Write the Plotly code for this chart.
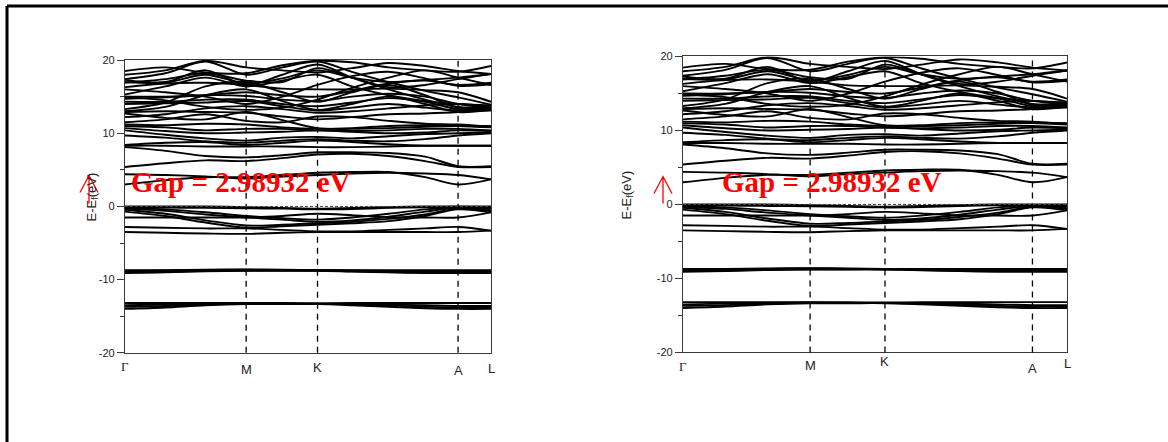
import plotly.graph_objects as go

# ---- band-structure data (energies in eV relative to E_f) ----
# k-path sample positions along Γ-M-K-A-L
kpath = [0.0, 0.11, 0.22, 0.331, 0.43, 0.526, 0.62, 0.72, 0.82, 0.91, 1.0]
sym_pos = [0.0, 0.331, 0.526, 0.91, 1.0]
sym_labels = ["Γ", "M", "K", "A", "L"]

cond_high = [
    [18.5, 19.0, 18.3, 18.2, 19.3, 19.9, 19.7, 19.0, 18.6, 18.4, 19.2],
    [18.0, 18.6, 19.9, 19.0, 18.6, 18.3, 18.9, 19.6, 19.2, 18.5, 18.1],
    [17.4, 18.2, 19.8, 18.0, 19.0, 19.8, 18.4, 17.0, 15.8, 14.9, 13.9],
    [17.3, 17.0, 18.6, 16.6, 18.0, 19.4, 17.6, 16.0, 14.6, 13.6, 13.6],
    [17.0, 16.9, 18.0, 16.8, 17.5, 18.6, 17.6, 17.0, 17.3, 17.6, 18.1],
    [16.9, 17.4, 18.2, 17.2, 17.0, 18.9, 17.6, 16.3, 16.6, 17.4, 18.1],
    [16.3, 16.8, 16.9, 16.6, 16.1, 16.0, 16.0, 16.1, 15.9, 15.6, 14.3],
    [16.0, 15.6, 15.0, 14.0, 15.0, 16.6, 17.8, 18.4, 17.5, 16.5, 16.7],
    [15.3, 16.4, 17.6, 16.4, 17.2, 18.0, 16.4, 15.2, 14.4, 14.0, 13.8],
    [15.0, 15.0, 15.2, 15.6, 15.2, 15.0, 15.8, 16.8, 17.2, 16.6, 16.9],
    [14.9, 14.5, 13.6, 13.2, 13.5, 14.6, 16.2, 17.6, 18.6, 17.6, 16.6],
    [14.7, 14.9, 15.2, 15.1, 14.6, 14.4, 15.0, 15.4, 15.0, 14.0, 13.5],
    [14.3, 14.3, 14.6, 14.6, 14.0, 13.7, 14.2, 14.8, 14.3, 13.3, 13.3],
    [14.0, 14.1, 14.2, 14.4, 13.7, 13.1, 13.5, 14.0, 13.5, 13.1, 13.1],
    [13.3, 14.2, 16.4, 17.0, 15.6, 14.3, 15.6, 16.6, 15.2, 13.5, 13.4],
    [13.0, 13.6, 15.2, 16.0, 14.4, 13.2, 14.0, 15.0, 14.0, 12.9, 13.2],
    [12.9, 13.0, 12.9, 12.8, 12.3, 11.9, 12.2, 12.6, 12.7, 12.9, 13.3],
    [12.7, 12.1, 11.9, 12.9, 11.8, 10.7, 10.6, 10.7, 10.9, 11.0, 11.0],
    [12.2, 12.6, 13.4, 13.7, 13.3, 12.8, 13.0, 13.4, 13.8, 14.0, 13.6],
    [11.5, 11.9, 12.6, 11.7, 11.5, 12.3, 12.2, 11.7, 11.3, 11.2, 10.9],
]

cond_low = [
    [11.2, 11.1, 11.3, 11.2, 10.8, 10.6, 10.7, 11.0, 11.1, 11.0, 10.8],
    [11.0, 10.8, 10.4, 10.6, 10.6, 10.4, 10.3, 10.4, 10.6, 10.6, 10.4],
    [10.7, 10.3, 10.0, 10.1, 10.2, 10.4, 10.2, 10.0, 10.1, 10.4, 10.3],
    [10.4, 9.8, 9.3, 9.0, 9.4, 9.5, 9.3, 9.6, 9.9, 10.0, 10.1],
    [9.7, 9.4, 8.9, 8.7, 9.0, 9.2, 9.0, 8.9, 9.2, 9.7, 10.0],
    [8.4, 8.7, 8.8, 8.4, 8.7, 9.0, 8.8, 8.5, 8.3, 8.3, 8.3],
    [8.3, 8.3, 8.2, 8.2, 8.2, 8.1, 8.1, 8.2, 8.3, 8.3, 8.3],
    [8.1, 7.6, 6.9, 6.7, 7.0, 7.4, 7.4, 7.3, 6.8, 5.5, 5.5],
    [5.4, 5.9, 6.3, 6.2, 6.6, 7.1, 7.2, 6.9, 6.2, 5.4, 5.4],
    [4.4, 4.3, 4.1, 3.8, 4.1, 4.3, 4.5, 4.6, 4.5, 4.3, 3.7],
    [3.0, 3.6, 4.0, 4.0, 4.3, 4.6, 4.7, 4.7, 4.0, 3.0, 3.7],
]

valence = [
    [0.0, 0.0, 0.0, -0.1, -0.2, -0.3, -0.2, -0.1, 0.0, 0.0, 0.0],
    [-0.1, -0.15, -0.2, -0.25, -0.3, -0.4, -0.35, -0.2, -0.1, -0.05, -0.1],
    [-0.2, -0.4, -0.8, -1.3, -1.6, -1.8, -1.5, -1.0, -0.4, -0.1, -0.3],
    [-0.3, -0.6, -1.1, -1.5, -1.8, -2.1, -1.9, -1.4, -0.7, -0.2, -0.5],
    [-0.45, -1.0, -1.9, -2.6, -2.5, -2.3, -2.1, -1.7, -1.1, -0.3, -0.6],
    [-0.7, -1.3, -2.2, -2.9, -2.7, -2.5, -2.3, -2.0, -1.3, -0.4, -0.8],
    [-1.5, -1.5, -1.5, -1.5, -1.3, -1.0, -1.2, -1.5, -1.5, -1.5, -0.8],
    [-2.8, -2.9, -3.0, -3.0, -3.2, -3.4, -3.4, -3.2, -3.0, -2.8, -3.3],
    [-3.5, -3.6, -3.7, -3.75, -3.6, -3.5, -3.5, -3.5, -3.5, -3.5, -3.3],
]

semicore = [
    [-8.7, -8.7, -8.65, -8.6, -8.65, -8.7, -8.7, -8.7, -8.7, -8.7, -8.7],
    [-8.8, -8.75, -8.7, -8.65, -8.7, -8.7, -8.75, -8.8, -8.8, -8.8, -8.8],
    [-8.9, -8.85, -8.75, -8.7, -8.7, -8.75, -8.8, -8.85, -8.9, -8.9, -8.9],
    [-9.0, -8.95, -8.8, -8.75, -8.75, -8.75, -8.85, -8.95, -9.0, -9.0, -9.0],
    [-9.1, -9.0, -8.85, -8.8, -8.8, -8.8, -8.9, -9.0, -9.1, -9.1, -9.1],
    [-13.2, -13.2, -13.2, -13.2, -13.2, -13.25, -13.2, -13.2, -13.2, -13.2, -13.2],
    [-13.5, -13.4, -13.3, -13.25, -13.3, -13.3, -13.3, -13.4, -13.5, -13.6, -13.6],
    [-13.7, -13.6, -13.4, -13.3, -13.3, -13.3, -13.4, -13.55, -13.7, -13.8, -13.8],
    [-14.0, -13.8, -13.5, -13.35, -13.35, -13.35, -13.5, -13.7, -13.9, -14.0, -14.0],
]

gap_value = 2.98932
y_ticks = [-20, -10, 0, 10, 20]
y_tick_text = ["-20", "-10", "0", "10", "20"]

W, H = 1168, 442
all_bands = cond_high + cond_low + valence + semicore


def px(v):
    return v / W


def py(v):
    # vertical pixel position -> paper fraction (small calibration for the page)
    return 1 - ((v - 5.1) / 0.975) / H


fig = go.Figure()

# two panels: (x-axis, y-axis, x-domain px, y-domain px top/bottom)
panels = [
    ("x", "y", (125, 491), (59.3, 352.7)),
    ("x2", "y2", (683, 1067), (55.7, 352.3)),
]

for xa, ya, _, _ in panels:
    for band in all_bands:
        fig.add_trace(go.Scatter(
            x=kpath, y=band, xaxis=xa, yaxis=ya, mode="lines",
            line=dict(color="black", width=1.9, shape="spline", smoothing=0.9),
            hoverinfo="skip", showlegend=False,
        ))

axis_common = dict(showgrid=False, zeroline=False, linecolor="#3a3a3a",
                   linewidth=1.2, mirror=True)
layout_axes = {}
for i, (xa, ya, (x0, x1), (yt, yb)) in enumerate(panels):
    suffix = "" if i == 0 else str(i + 1)
    layout_axes["xaxis" + suffix] = dict(
        domain=[px(x0), px(x1)], range=[0, 1], anchor=ya,
        showticklabels=False, ticks="", **axis_common)
    layout_axes["yaxis" + suffix] = dict(
        domain=[py(yb), py(yt)], range=[-20, 20], anchor=xa,
        tickvals=y_ticks, ticktext=y_tick_text,
        ticks="outside", ticklen=7, tickwidth=1.1,
        tickcolor="#3a3a3a",
        tickfont=dict(family="Arial, Liberation Sans", size=11, color="#222"),
        minor=dict(tickvals=[-15, -5, 5, 15], ticks="outside", ticklen=4,
                   tickwidth=1, tickcolor="#3a3a3a"),
        **axis_common)

shapes = []
annotations = []

label_y = [
    [366, 369, 367, 370, 368],
    [366, 365, 361, 368, 363],
]
title_pos = [(92, 197), (627, 195)]
gap_pos = [(241, 181), (832, 181)]
arrow_geo = [(89, 175, 203), (663, 176, 203)]

for i, (xa, ya, (x0, x1), (yt, yb)) in enumerate(panels):
    # high-symmetry vertical guides
    for kp in sym_pos[1:-1]:
        shapes.append(dict(type="line", xref=xa, yref=ya + " domain",
                           x0=kp, x1=kp, y0=0, y1=1,
                           line=dict(color="black", width=1.3, dash="6px,5px")))
    # Fermi level
    shapes.append(dict(type="line", xref=xa + " domain", yref=ya,
                       x0=0, x1=1, y0=0, y1=0,
                       line=dict(color="#444", width=1, dash="3px,2px")))
    # k-point labels under the axis
    for j, (kp, lab) in enumerate(zip(sym_pos, sym_labels)):
        fam = "Liberation Serif, Times New Roman, serif" if lab == "Γ" else "Arial, Liberation Sans"
        annotations.append(dict(
            x=kp, xref=xa, y=py(label_y[i][j]), yref="paper",
            text=lab, showarrow=False, xanchor="center", yanchor="middle",
            font=dict(family=fam, size=13, color="#222")))
    # y-axis title
    tx, ty = title_pos[i]
    annotations.append(dict(
        x=px(tx), y=py(ty), xref="paper", yref="paper",
        text="E-E<sub>f</sub>(eV)", textangle=-90, showarrow=False,
        xanchor="center", yanchor="middle",
        font=dict(family="Arial, Liberation Sans", size=13, color="#222")))
    # gap label
    gx, gy = gap_pos[i]
    annotations.append(dict(
        x=px(gx), y=py(gy), xref="paper", yref="paper",
        text=f"<b>Gap = {gap_value:.5f} eV</b>", showarrow=False,
        xanchor="center", yanchor="middle",
        font=dict(family="Liberation Serif, Times New Roman, serif",
                  size=29, color="#ff0000")))
    # red spin arrow
    ax_, atop, abot = arrow_geo[i]
    path = (f"M {px(ax_)},{py(abot)} L {px(ax_)},{py(atop)} "
            f"M {px(ax_ - 9)},{py(atop + 17)} L {px(ax_)},{py(atop)} "
            f"L {px(ax_ + 9)},{py(atop + 17)}")
    shapes.append(dict(type="path", xref="paper", yref="paper", path=path,
                       line=dict(color="#ff0000", width=1.3)))

# outer frame (top and left edges)
shapes.append(dict(type="line", xref="paper", yref="paper",
                   x0=px(7), x1=1.02, y0=py(5), y1=py(5),
                   line=dict(color="black", width=3)))
shapes.append(dict(type="line", xref="paper", yref="paper",
                   x0=px(7), x1=px(7), y0=py(5), y1=-0.05,
                   line=dict(color="black", width=3)))

fig.update_layout(
    width=W, height=H, autosize=False,
    margin=dict(l=0, r=0, t=0, b=0),
    paper_bgcolor="white", plot_bgcolor="white",
    showlegend=False, shapes=shapes, annotations=annotations,
    **layout_axes,
)

fig.write_html("out.html")
